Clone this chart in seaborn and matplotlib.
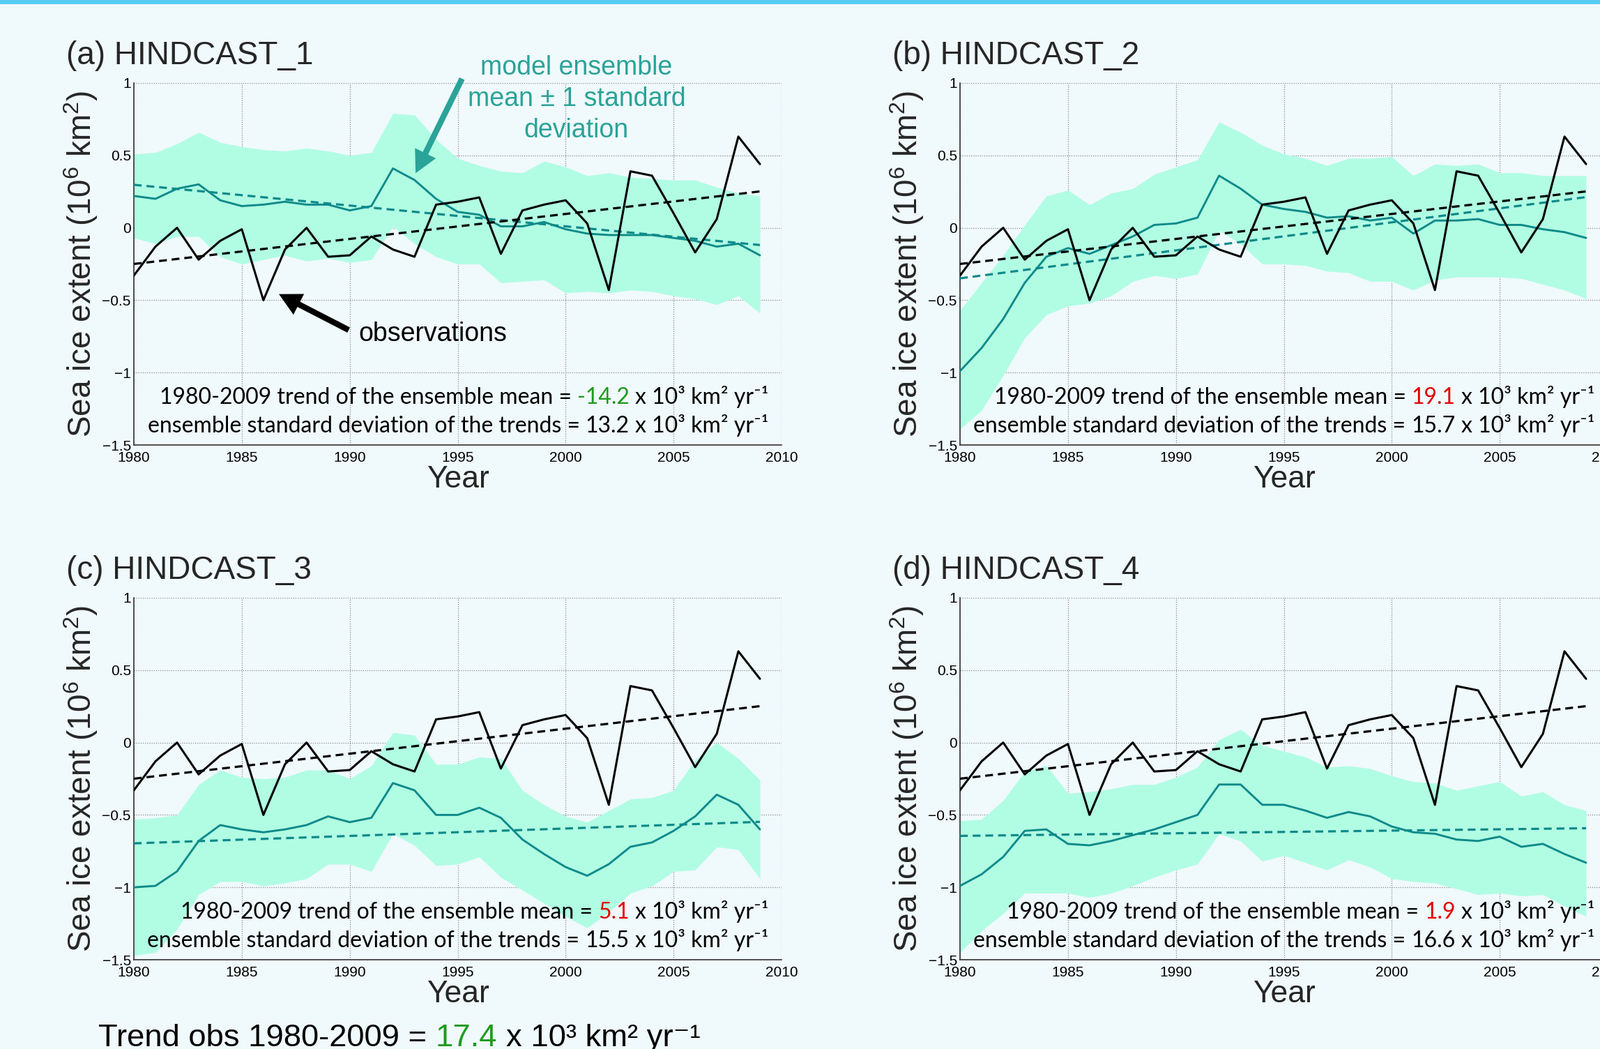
import matplotlib
matplotlib.use("Agg")
import numpy as np
import pandas as pd
import matplotlib.pyplot as plt
from matplotlib.patches import Rectangle
from matplotlib.transforms import offset_copy
import seaborn as sns

# ---- data (10^6 km^2 anomalies) ----
years = list(range(1980, 2010))

obs = [-0.33, -0.13, 0.00, -0.22, -0.09, -0.01, -0.50, -0.15, 0.00, -0.20,
       -0.19, -0.06, -0.15, -0.20, 0.16, 0.18, 0.21, -0.18, 0.12, 0.16,
       0.19, 0.03, -0.43, 0.39, 0.36, 0.10, -0.17, 0.06, 0.63, 0.44]

mean_h1 = [0.22, 0.20, 0.27, 0.30, 0.19, 0.15, 0.16, 0.18, 0.16, 0.16,
           0.12, 0.15, 0.41, 0.33, 0.20, 0.11, 0.09, 0.01, 0.01, 0.04,
           -0.01, -0.04, -0.05, -0.05, -0.05, -0.07, -0.09, -0.13, -0.11, -0.19]
upper_h1 = [0.51, 0.52, 0.58, 0.66, 0.59, 0.56, 0.54, 0.53, 0.55, 0.53,
            0.50, 0.52, 0.79, 0.78, 0.61, 0.48, 0.43, 0.39, 0.38, 0.46,
            0.42, 0.36, 0.38, 0.35, 0.34, 0.33, 0.33, 0.28, 0.24, 0.22]
lower_h1 = [-0.07, -0.11, -0.06, -0.06, -0.20, -0.25, -0.22, -0.19, -0.23, -0.21,
            -0.24, -0.22, 0.01, -0.11, -0.20, -0.25, -0.25, -0.38, -0.37, -0.36,
            -0.45, -0.44, -0.45, -0.43, -0.44, -0.47, -0.49, -0.53, -0.47, -0.59]

mean_h2 = [-0.99, -0.83, -0.63, -0.38, -0.20, -0.14, -0.18, -0.12, -0.06, 0.02,
           0.03, 0.07, 0.36, 0.27, 0.16, 0.13, 0.11, 0.07, 0.08, 0.05,
           0.07, -0.04, 0.05, 0.05, 0.06, 0.02, 0.02, -0.01, -0.03, -0.07]
upper_h2 = [-0.57, -0.38, -0.19, 0.02, 0.22, 0.26, 0.16, 0.24, 0.27, 0.37,
            0.42, 0.47, 0.73, 0.66, 0.57, 0.51, 0.48, 0.43, 0.48, 0.48,
            0.49, 0.36, 0.44, 0.43, 0.44, 0.38, 0.38, 0.36, 0.36, 0.36]
lower_h2 = [-1.39, -1.26, -1.02, -0.76, -0.60, -0.54, -0.52, -0.47, -0.37, -0.33,
            -0.35, -0.32, -0.02, -0.11, -0.25, -0.25, -0.26, -0.30, -0.31, -0.37,
            -0.37, -0.43, -0.36, -0.34, -0.34, -0.34, -0.35, -0.39, -0.43, -0.49]

mean_h3 = [-1.00, -0.99, -0.89, -0.68, -0.57, -0.60, -0.62, -0.60, -0.57, -0.51,
           -0.55, -0.52, -0.28, -0.33, -0.50, -0.50, -0.45, -0.52, -0.67, -0.77,
           -0.86, -0.92, -0.84, -0.72, -0.69, -0.61, -0.51, -0.36, -0.43, -0.60]
upper_h3 = [-0.53, -0.52, -0.50, -0.29, -0.19, -0.24, -0.25, -0.24, -0.19, -0.19,
            -0.25, -0.16, 0.07, 0.05, -0.15, -0.15, -0.10, -0.11, -0.33, -0.43,
            -0.51, -0.55, -0.47, -0.39, -0.38, -0.33, -0.12, 0.00, -0.11, -0.26]
lower_h3 = [-1.47, -1.45, -1.29, -1.05, -0.96, -0.96, -0.99, -0.97, -0.94, -0.84,
            -0.84, -0.89, -0.63, -0.71, -0.85, -0.84, -0.79, -0.93, -1.02, -1.11,
            -1.20, -1.28, -1.17, -1.04, -0.99, -0.89, -0.88, -0.72, -0.74, -0.94]

mean_h4 = [-0.99, -0.91, -0.79, -0.61, -0.60, -0.70, -0.71, -0.68, -0.64, -0.60,
           -0.55, -0.50, -0.29, -0.29, -0.43, -0.43, -0.47, -0.52, -0.48, -0.51,
           -0.58, -0.62, -0.63, -0.67, -0.68, -0.65, -0.72, -0.70, -0.77, -0.83]
upper_h4 = [-0.54, -0.53, -0.40, -0.20, -0.16, -0.35, -0.34, -0.32, -0.29, -0.29,
            -0.24, -0.17, 0.02, 0.09, -0.02, -0.06, -0.10, -0.17, -0.16, -0.18,
            -0.23, -0.27, -0.28, -0.33, -0.30, -0.27, -0.37, -0.34, -0.43, -0.47]
lower_h4 = [-1.45, -1.30, -1.18, -1.04, -1.04, -1.04, -1.07, -1.04, -0.99, -0.93,
            -0.88, -0.84, -0.63, -0.68, -0.82, -0.78, -0.83, -0.88, -0.81, -0.86,
            -0.94, -0.96, -0.97, -1.01, -1.05, -1.04, -1.06, -1.05, -1.13, -1.20]

titles = ["(a) HINDCAST_1", "(b) HINDCAST_2", "(c) HINDCAST_3", "(d) HINDCAST_4"]
ens_trend = ["-14.2", "19.1", "5.1", "1.9"]
ens_trend_color = ["#1f9a1f", "#e00000", "#e00000", "#e00000"]
ens_sd = ["13.2", "15.7", "15.5", "16.6"]
obs_trend = "17.4"

xticks = [1980, 1985, 1990, 1995, 2000, 2005, 2010]
yticks = [1, 0.5, 0, -0.5, -1, -1.5]
ytick_labels = ["1", "0.5", "0", "\u22120.5", "\u22121", "\u22121.5"]

means = [mean_h1, mean_h2, mean_h3, mean_h4]
uppers = [upper_h1, upper_h2, upper_h3, upper_h4]
lowers = [lower_h1, lower_h2, lower_h3, lower_h4]

# ---- style ----
BG = "#f0f9fc"
BAND = "#b1fde3"
TEAL = "#0e8a8a"
TEAL_TXT = "#2aa398"

sns.set_style("white")
plt.rcParams["font.family"] = ["Liberation Sans", "DejaVu Sans"]
plt.rcParams["mathtext.fontset"] = "custom"
plt.rcParams["mathtext.rm"] = "Liberation Sans"
plt.rcParams["mathtext.it"] = "Liberation Sans:italic"

W, H = 2295, 1504
fig = plt.figure(figsize=(W / 100, H / 100), dpi=100, facecolor=BG)
fig.add_artist(Rectangle((0, 1 - 6 / H), 1, 6 / H, transform=fig.transFigure,
                         color="#55cdf2", lw=0))

ax_w, ax_h = 929 / W, 519 / H
lefts = [192 / W, 1377 / W, 192 / W, 1377 / W]
bottoms = [1 - 638 / H, 1 - 638 / H, 1 - 1376 / H, 1 - 1376 / H]

NOTE_FONT = ["Lato", "DejaVu Sans"]


def multicolour(owner, x, y, parts, transform, right=True, **kw):
    texts = [owner.text(x, y, s, color=c, transform=transform,
                        ha="left", va="baseline", **kw) for s, c in parts]
    p1 = owner.text(0, 0, "a a", transform=transform, **kw)
    p2 = owner.text(0, 0, "aa", transform=transform, **kw)
    fig.canvas.draw()
    r = fig.canvas.get_renderer()
    gap = p1.get_window_extent(r).width - p2.get_window_extent(r).width
    p1.remove()
    p2.remove()
    widths = [t.get_window_extent(r).width for t in texts]
    total = sum(widths) + gap * (len(texts) - 1)
    pos = -total if right else 0
    for t, w in zip(texts, widths):
        t.set_transform(offset_copy(transform, fig=fig, x=pos, y=0, units="dots"))
        pos += w + gap


axes = []
for i in range(4):
    ax = fig.add_axes([lefts[i], bottoms[i], ax_w, ax_h])
    ax.set_facecolor(BG)
    df = pd.DataFrame({"year": years, "obs": obs, "mean": means[i],
                       "upper": uppers[i], "lower": lowers[i]})

    ax.fill_between(df["year"], df["lower"], df["upper"], color=BAND, lw=0, zorder=1)
    sns.lineplot(data=df, x="year", y="mean", ax=ax, color=TEAL, lw=2.1, zorder=3)
    sns.regplot(data=df, x="year", y="mean", ax=ax, scatter=False, ci=None,
                color=TEAL, line_kws=dict(lw=2.3, ls=(0, (3.5, 2.2)), zorder=4))
    sns.lineplot(data=df, x="year", y="obs", ax=ax, color="black", lw=2.2, zorder=5)
    sns.regplot(data=df, x="year", y="obs", ax=ax, scatter=False, ci=None,
                color="black", line_kws=dict(lw=2.3, ls=(0, (3.5, 2.2)), zorder=6))

    ax.set_xlim(1980, 2010)
    ax.set_ylim(-1.5, 1)
    ax.set_xticks(xticks)
    ax.set_xticklabels([str(x) for x in xticks])
    ax.set_yticks(yticks)
    ax.set_yticklabels(ytick_labels)
    ax.set_axisbelow(True)
    ax.grid(True, ls=(0, (1, 1.5)), color="#8a8a8a", lw=0.9)
    for s in ["top", "right"]:
        ax.spines[s].set_visible(False)
    for s in ["left", "bottom"]:
        ax.spines[s].set_color("#333333")
        ax.spines[s].set_linewidth(1.2)
    ax.tick_params(axis="both", direction="in", length=6, width=1.2,
                   labelsize=15, colors="black")
    ax.tick_params(axis="x", pad=6.5)
    ax.tick_params(axis="y", pad=3)

    ax.set_xlabel("Year", fontsize=32)
    ax.xaxis.label.set_va("baseline")
    ax.xaxis.set_label_coords(0.5, -61 / 519)
    ax.set_ylabel("Sea ice extent (10$^6$ km$^2$)", fontsize=33)
    ax.yaxis.label.set_va("center")
    ax.yaxis.set_label_coords(-76 / 929, 0.5)

    ax.text(-97 / 929, 1 + 27 / 519, titles[i], transform=ax.transAxes,
            fontsize=33, ha="left", va="baseline")
    axes.append(ax)

    unit = "x 10\u00b3 km\u00b2 yr\u207b\u00b9"
    multicolour(ax, 0.98, 59 / 519,
                [("1980-2009 trend of the ensemble mean =", "black"),
                 (ens_trend[i], ens_trend_color[i]),
                 (unit, "black")],
                ax.transAxes, fontsize=23, family=NOTE_FONT)
    multicolour(ax, 0.98, 18 / 519,
                [("ensemble standard deviation of the trends =", "black"),
                 (ens_sd[i], "black"),
                 (unit, "black")],
                ax.transAxes, fontsize=23, family=NOTE_FONT)

# annotations on panel (a)
ax = axes[0]
ax.text(2000.5, 0.623, "model ensemble\nmean \u00b1 1 standard\ndeviation",
        color=TEAL_TXT, fontsize=27, ha="center", va="baseline", linespacing=1.32)
ax.annotate("", xy=(1993.05, 0.377), xytext=(1995.2, 1.03),
            arrowprops=dict(facecolor=TEAL_TXT, edgecolor="none", width=6,
                            headwidth=24, headlength=23),
            annotation_clip=False, zorder=7)
ax.text(1990.4, -0.783, "observations", color="black", fontsize=27,
        ha="left", va="baseline")
ax.annotate("", xy=(1986.72, -0.458), xytext=(1989.95, -0.706),
            arrowprops=dict(facecolor="black", edgecolor="none", width=6,
                            headwidth=24, headlength=23),
            annotation_clip=False, zorder=7)

multicolour(fig, 141 / W, 4 / H,
            [("Trend obs 1980-2009 =", "black"), (obs_trend, "#1f9a1f"),
             ("x 10\u00b3 km\u00b2 yr\u207b\u00b9", "black")],
            fig.transFigure, right=False, fontsize=32.7,
            family=["Liberation Sans", "DejaVu Sans"])

fig.savefig("out.png", dpi=100, facecolor=BG)
